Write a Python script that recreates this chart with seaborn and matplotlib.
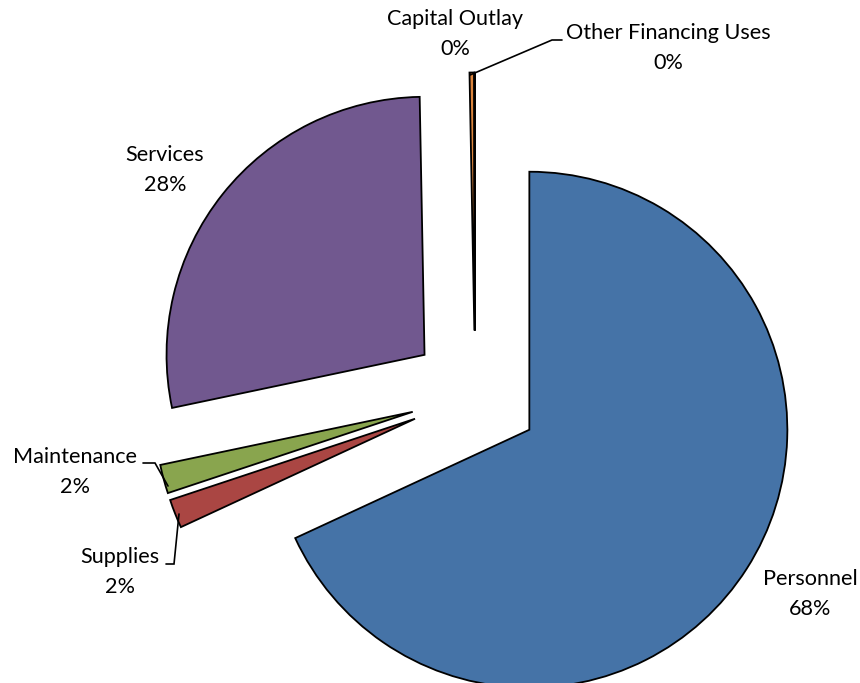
import matplotlib
matplotlib.use("Agg")
import matplotlib.pyplot as plt
import seaborn as sns

# Budget share by expenditure category
categories = ["Personnel", "Supplies", "Maintenance", "Services",
              "Capital Outlay", "Other Financing Uses"]
shares = [68.1, 1.8, 1.8, 28.0, 0.28, 0.02]
pct_labels = ["68%", "2%", "2%", "28%", "0%", "0%"]

colors = ["#4573A7", "#AA4643", "#89A54E", "#71588F", "#DB843D", "#4198AF"]

sns.set_theme(style="white")
plt.rcParams["font.family"] = ["Lato", "DejaVu Sans"]

W, H = 860, 683
fig = plt.figure(figsize=(W / 100, H / 100), dpi=100)
ax = fig.add_axes([0, 0, 1, 1])

# pie geometry in pixels (centre and radius)
cx, cy, R = 475, 395, 258


def to_data(px, py):
    return (px - cx) / R, (cy - py) / R


ax.pie(shares, colors=colors, startangle=90, counterclock=False,
       explode=[0.25] * len(shares), radius=1.0,
       wedgeprops=dict(edgecolor="black", linewidth=1.3))

ax.set_xlim(-cx / R, (W - cx) / R)
ax.set_ylim(-(H - cy) / R, cy / R)
ax.set_aspect("auto")
ax.axis("off")

# label anchor points (pixel centres)
label_pos = {
    "Personnel": (810, 594),
    "Supplies": (120, 572),
    "Maintenance": (75, 472),
    "Services": (165, 170),
    "Capital Outlay": (455, 34),
    "Other Financing Uses": (668, 48),
}
for cat, pct in zip(categories, pct_labels):
    x, y = to_data(*label_pos[cat])
    ax.text(x, y, f"{cat}\n{pct}", ha="center", va="center",
            fontsize=15.6, linespacing=1.6, color="black")

# leader lines
leaders = {
    "Other Financing Uses": [(470, 75), (552, 40), (562, 40)],
    "Maintenance": [(143, 463), (155, 463), (168, 486)],
    "Supplies": [(166, 564), (174, 564), (179, 514)],
}
for pts in leaders.values():
    xs, ys = zip(*[to_data(px, py) for px, py in pts])
    ax.plot(xs, ys, color="black", linewidth=1.2, solid_joinstyle="miter")

fig.savefig("out.png", dpi=100, facecolor="white")
